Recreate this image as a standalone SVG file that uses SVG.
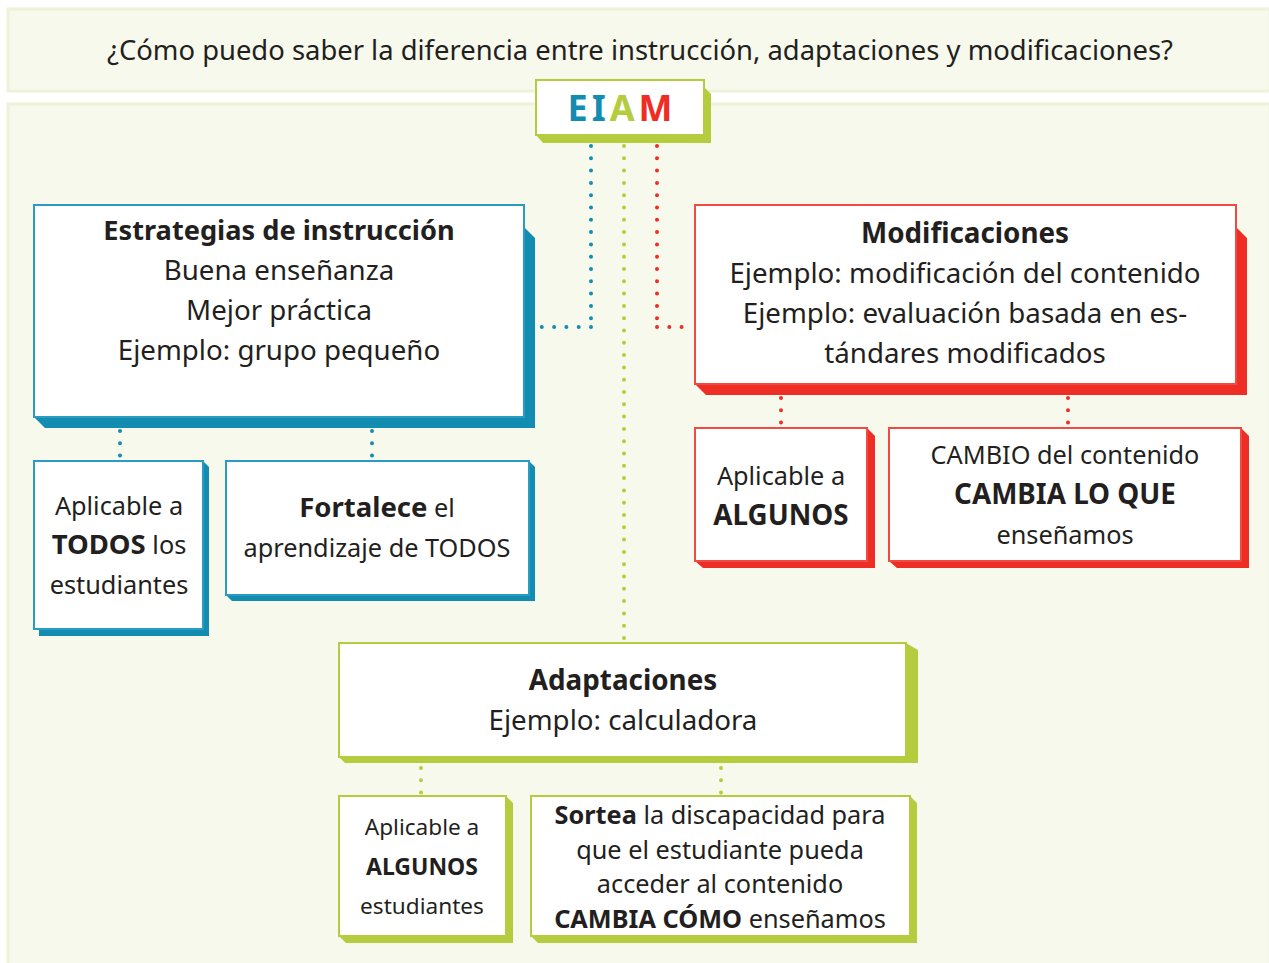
<svg xmlns="http://www.w3.org/2000/svg" width="1269" height="963" viewBox="0 0 1269 963">
<style>
.panel{fill:#f8f9ed;stroke:#eef2d9;stroke-width:3}
.box{fill:#ffffff;stroke-width:2}
.b .box{stroke:#2a9cc2}.b .sh{fill:#138cb1}
.r .box{stroke:#f04a42}.r .sh{fill:#ee2d24}
.g .box{stroke:#b5cc3f}.g .sh{fill:#b5cc3f}
text{font-family:"Noto Sans","Open Sans","DejaVu Sans",sans-serif;fill:#231f20;text-anchor:middle}
.t{font-size:27.7px}
.h{font-size:27.8px;font-weight:bold}
.s{font-size:25.3px}
.xs{font-size:22.6px}
.bd{font-weight:bold}
.dot{fill:none;stroke-width:4;stroke-linecap:round;stroke-dasharray:0 12.3}
.db{stroke:#138cb1}.dr{stroke:#ee2d24}.dg{stroke:#b5cc3f}
</style>
<rect width="1269" height="963" fill="#ffffff"/>
<rect class="panel" x="8" y="9" width="1262" height="82"/>
<rect class="panel" x="8" y="104" width="1262" height="870"/>
<text x="640" y="60" style="font-size:27.4px">¿Cómo puedo saber la diferencia entre instrucción, adaptaciones y modificaciones?</text>

<g id="connectors">
<path class="dot db" d="M591 146 V327 M591 327 H538"/>
<path class="dot dg" d="M624 146 V640"/>
<path class="dot dr" d="M657 146 V327 M657 327 H692"/>
<path class="dot db" d="M120 431 V457 M372 431 V457"/>
<path class="dot dr" d="M781 398 V424 M1068 398 V424"/>
<path class="dot dg" d="M421 768 V794 M721 768 V794"/>
</g>

<g id="eiam" class="g">
<polygon class="sh" points="704,87 711,94 711,143 543,143 536,135 704,135"/>
<rect class="box" x="536" y="80" width="168" height="55"/>
<text x="622" y="121" style="font-size:36px;font-weight:bold;letter-spacing:4px"><tspan style="fill:#138cb1">E</tspan><tspan style="fill:#138cb1">I</tspan><tspan style="fill:#b5cc3f">A</tspan><tspan style="fill:#ee2d24">M</tspan></text>
</g>

<g id="estrategias" class="b">
<polygon class="sh" points="524,227 535,238 535,428 45,428 34,417 524,417"/>
<rect class="box" x="34" y="205" width="490" height="212"/>
<text class="h" x="279" y="240" style="font-size:27.2px">Estrategias de instrucción</text>
<text class="t" x="279" y="280">Buena enseñanza</text>
<text class="t" x="279" y="320">Mejor práctica</text>
<text class="t" x="279" y="360">Ejemplo: grupo pequeño</text>
</g>

<g id="todos" class="b">
<polygon class="sh" points="203,461 209,467 209,636 39,636 39,629 203,629"/>
<rect class="box" x="34" y="461" width="169" height="168"/>
<text class="s" x="119" y="515">Aplicable a</text>
<text class="s" x="119" y="554"><tspan class="bd" style="font-size:27.5px">TODOS</tspan> los</text>
<text class="s" x="119" y="594">estudiantes</text>
</g>

<g id="fortalece" class="b">
<polygon class="sh" points="529,461 535,467 535,601 232,601 226,595 529,595"/>
<rect class="box" x="226" y="461" width="303" height="134"/>
<text class="s" x="377" y="517"><tspan class="bd" style="font-size:27.5px">Fortalece</tspan> el</text>
<text class="s" x="377" y="557">aprendizaje de TODOS</text>
</g>

<g id="modificaciones" class="r">
<polygon class="sh" points="1236,227 1247,238 1247,395 706,395 695,384 1236,384"/>
<rect class="box" x="695" y="205" width="541" height="179"/>
<text class="h" x="965" y="243">Modificaciones</text>
<text class="t" x="965" y="283">Ejemplo: modificación del contenido</text>
<text class="t" x="965" y="323">Ejemplo: evaluación basada en es-</text>
<text class="t" x="965" y="363">tándares modificados</text>
</g>

<g id="algunos-r" class="r">
<polygon class="sh" points="867,428 875,436 875,568 703,568 695,561 867,561"/>
<rect class="box" x="695" y="428" width="172" height="133"/>
<text class="s" x="781" y="485">Aplicable a</text>
<text class="h" x="781" y="525">ALGUNOS</text>
</g>

<g id="cambio" class="r">
<polygon class="sh" points="1241,428 1249,436 1249,568 897,568 889,561 1241,561"/>
<rect class="box" x="889" y="428" width="352" height="133"/>
<text class="s" x="1065" y="464">CAMBIO del contenido</text>
<text class="h" x="1065" y="504">CAMBIA LO QUE</text>
<text class="s" x="1065" y="544">enseñamos</text>
</g>

<g id="adaptaciones" class="g">
<polygon class="sh" points="906,643 918,650 918,763 345,763 339,757 906,757"/>
<rect class="box" x="339" y="643" width="567" height="114"/>
<text class="h" x="623" y="690">Adaptaciones</text>
<text class="t" x="623" y="730">Ejemplo: calculadora</text>
</g>

<g id="algunos-g" class="g">
<polygon class="sh" points="506,796 513,803 513,943 346,943 339,936 506,936"/>
<rect class="box" x="339" y="796" width="167" height="140"/>
<text class="xs" x="422" y="835">Aplicable a</text>
<text class="xs bd" x="422" y="875" style="font-size:23px">ALGUNOS</text>
<text class="xs" x="422" y="914">estudiantes</text>
</g>

<g id="sortea" class="g">
<polygon class="sh" points="910,796 917,803 917,943 538,943 531,936 910,936"/>
<rect class="box" x="531" y="796" width="379" height="140"/>
<text class="s" x="720" y="824"><tspan class="bd">Sortea</tspan> la discapacidad para</text>
<text class="s" x="720" y="859">que el estudiante pueda</text>
<text class="s" x="720" y="893">acceder al contenido</text>
<text class="s" x="720" y="928"><tspan class="bd">CAMBIA CÓMO</tspan> enseñamos</text>
</g>
</svg>
